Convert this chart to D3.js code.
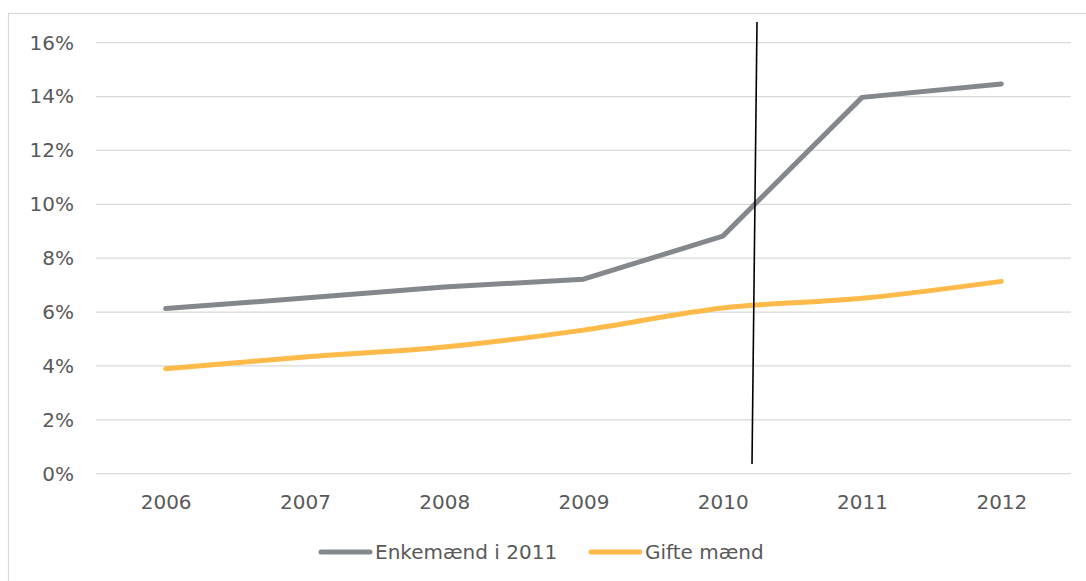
<!DOCTYPE html>
<html>
<head>
<meta charset="utf-8">
<script src="https://cdn.jsdelivr.net/npm/d3@7"></script>
<style>
  html, body { margin: 0; padding: 0; background: #fff; }
  svg { display: block; font-family: "DejaVu Sans", Verdana, sans-serif; }
</style>
</head>
<body>
<svg id="chart" width="1086" height="581"></svg>
<script>
// Andel (%) per år
const years = ["2006", "2007", "2008", "2009", "2010", "2011", "2012"];
const enkemaend = [6.13, 6.52, 6.93, 7.22, 8.82, 13.97, 14.47];
const gifteMaend = [3.90, 4.33, 4.70, 5.33, 6.15, 6.51, 7.14];
const yTicks = [0, 2, 4, 6, 8, 10, 12, 14, 16];
const seriesNames = ["Enkemænd i 2011", "Gifte mænd"];
const seriesColors = ["#84888c", "#ffba4a"];

const svg = d3.select("#chart");
const W = 1086, H = 581;
const FONT = "20px";

// Chart frame
svg.append("rect")
  .attr("x", 8.5).attr("y", 13.5)
  .attr("width", W + 10).attr("height", H + 10)
  .attr("fill", "none").attr("stroke", "#d9d9d9").attr("stroke-width", 1.2);

const x = d3.scalePoint().domain(years).range([96, 1071]).padding(0.5);
const y = d3.scaleLinear().domain([0, 16]).range([473.7, 42.7]);

// Gridlines
svg.append("g").selectAll("line").data(yTicks).join("line")
  .attr("x1", 96).attr("x2", 1071)
  .attr("y1", d => y(d)).attr("y2", d => y(d))
  .attr("stroke", "#d9d9d9").attr("stroke-width", 1.3);

// Y axis labels
const yAxis = svg.append("g")
  .attr("transform", "translate(74,0)")
  .call(d3.axisLeft(y).tickValues(yTicks).tickFormat(d => d + "%").tickSize(0).tickPadding(0));
yAxis.select(".domain").remove();
yAxis.selectAll("text")
  .attr("fill", "#595959").style("font-size", FONT)
  .style("font-family", "'DejaVu Sans', Verdana, sans-serif");

// X axis labels
const xAxis = svg.append("g")
  .attr("transform", "translate(0,495)")
  .call(d3.axisBottom(x).tickSize(0).tickPadding(0));
xAxis.select(".domain").remove();
xAxis.selectAll("text")
  .attr("fill", "#595959").style("font-size", FONT)
  .style("font-family", "'DejaVu Sans', Verdana, sans-serif");

// Series lines
const lineStraight = d3.line().x((d, i) => x(years[i])).y(d => y(d));
const lineSmooth = d3.line().x((d, i) => x(years[i])).y(d => y(d)).curve(d3.curveCatmullRom.alpha(0.5));

svg.append("path").datum(gifteMaend)
  .attr("d", lineSmooth)
  .attr("fill", "none").attr("stroke", seriesColors[1])
  .attr("stroke-width", 5).attr("stroke-linecap", "round").attr("stroke-linejoin", "round");

svg.append("path").datum(enkemaend)
  .attr("d", lineStraight)
  .attr("fill", "none").attr("stroke", seriesColors[0])
  .attr("stroke-width", 5).attr("stroke-linecap", "round").attr("stroke-linejoin", "round");

// Hand-drawn marker line around 2010
svg.append("line")
  .attr("x1", 757).attr("y1", 22).attr("x2", 752).attr("y2", 464)
  .attr("stroke", "#000").attr("stroke-width", 1.6);

// Legend
const legendItems = [
  { name: seriesNames[0], color: seriesColors[0], x0: 319 },
  { name: seriesNames[1], color: seriesColors[1], x0: 589 }
];
const lg = svg.append("g").selectAll("g").data(legendItems).join("g")
  .attr("transform", d => `translate(${d.x0},552)`);
lg.append("line")
  .attr("x1", 2).attr("x2", 51).attr("y1", 0).attr("y2", 0)
  .attr("stroke", d => d.color).attr("stroke-width", 5).attr("stroke-linecap", "round");
lg.append("text")
  .attr("x", 56).attr("y", 0).attr("dy", "0.35em")
  .attr("fill", "#595959").style("font-size", FONT)
  .text(d => d.name);
</script>
</body>
</html>
